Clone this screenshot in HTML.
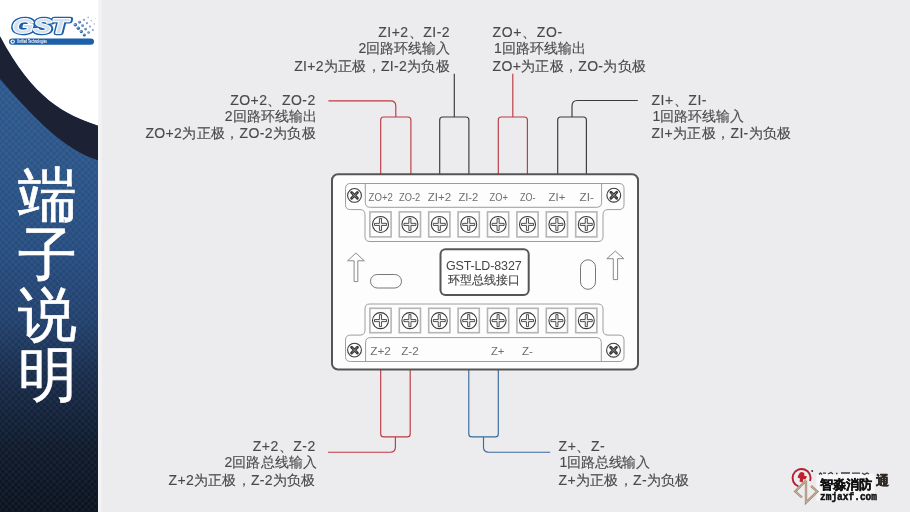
<!DOCTYPE html>
<html><head><meta charset="utf-8">
<style>
html,body{margin:0;padding:0;width:910px;height:512px;overflow:hidden;background:#ececef;}
svg{position:absolute;left:0;top:0;display:block;will-change:transform;}
text{font-family:"Liberation Sans",sans-serif;}
</style></head>
<body>
<svg width="910" height="512" viewBox="0 0 910 512">
<defs>
  <linearGradient id="pg" gradientUnits="userSpaceOnUse" x1="0" y1="0" x2="0" y2="512">
    <stop offset="0" stop-color="#2f5c95"/>
    <stop offset="0.31" stop-color="#2c5689"/>
    <stop offset="0.49" stop-color="#274d80"/>
    <stop offset="0.62" stop-color="#22426f"/>
    <stop offset="0.74" stop-color="#182b49"/>
    <stop offset="0.88" stop-color="#0f1a2b"/>
    <stop offset="1" stop-color="#0b1320"/>
  </linearGradient>
  <pattern id="hatch" width="4.5" height="4.5" patternUnits="userSpaceOnUse" patternTransform="rotate(45)">
    <rect x="0" y="0" width="1" height="4.5" fill="#ffffff" fill-opacity="0.045"/>
    <rect x="0" y="0" width="4.5" height="1" fill="#ffffff" fill-opacity="0.045"/>
    <rect x="2.25" y="2.25" width="1.2" height="1.2" fill="#000000" fill-opacity="0.05"/>
  </pattern>
</defs>
<!-- background -->
<rect x="0" y="0" width="910" height="512" fill="#ececef"/>
<rect x="98" y="0" width="3.5" height="512" fill="#f3f3f5"/>
<!-- left panel -->
<rect x="0" y="0" width="98" height="512" fill="url(#pg)"/>
<rect x="0" y="0" width="98" height="512" fill="url(#hatch)"/>
<path d="M0 0 H98 V125.69 C65.33 115.21 32.67 98.71 0 36.34 Z" fill="#ffffff"/>
<path d="M0 36.34 C32.67 98.71 65.33 115.21 98 125.69 V160.2 C65.33 150.4 32.67 117.03 0 79.00 Z" fill="#1c2133"/>
<g id="logo">
  <rect x="9" y="38.4" width="85" height="6.4" rx="3.2" fill="#1d5fa9"/>
  <circle cx="12.6" cy="41.6" r="2.2" fill="#ffffff"/>
  <circle cx="12.8" cy="41.6" r="1.1" fill="#1d5fa9"/>
  <text x="17" y="43.4" font-size="5" font-weight="bold" fill="#ffffff" textLength="30" lengthAdjust="spacingAndGlyphs">Unified Technologies</text>
  <g font-size="20" font-weight="bold" font-style="italic">
  <text x="12.8" y="33.4" fill="#1d5fa9" stroke="#1d5fa9" stroke-width="4.4" stroke-linejoin="round" textLength="55.5" lengthAdjust="spacingAndGlyphs">GST</text>
  <text x="12.4" y="32.8" fill="#ffffff" stroke="#ffffff" stroke-width="1.8" stroke-linejoin="round" textLength="55.5" lengthAdjust="spacingAndGlyphs">GST</text>
  <text x="12.4" y="32.8" fill="#3b78bd" fill-opacity="0.22" textLength="55.5" lengthAdjust="spacingAndGlyphs">GST</text>
</g>
  <g>
<circle cx="75.3" cy="24.8" r="1.75" fill="#2a62a8" opacity="1.00"/>
<circle cx="74.9" cy="24.4" r="0.79" fill="#cfe0f3" opacity="0.80"/>
<circle cx="78.3" cy="28.2" r="1.70" fill="#2a62a8" opacity="1.00"/>
<circle cx="77.9" cy="27.8" r="0.77" fill="#cfe0f3" opacity="0.80"/>
<circle cx="81.3" cy="31.6" r="1.65" fill="#2a62a8" opacity="1.00"/>
<circle cx="80.9" cy="31.2" r="0.74" fill="#cfe0f3" opacity="0.80"/>
<circle cx="84.3" cy="35.0" r="1.60" fill="#2a62a8" opacity="1.00"/>
<circle cx="83.9" cy="34.6" r="0.72" fill="#cfe0f3" opacity="0.80"/>
<circle cx="79.6" cy="22.3" r="1.45" fill="#2a62a8" opacity="0.82"/>
<circle cx="79.2" cy="21.9" r="0.65" fill="#cfe0f3" opacity="0.66"/>
<circle cx="82.6" cy="25.7" r="1.40" fill="#2a62a8" opacity="0.82"/>
<circle cx="82.2" cy="25.3" r="0.63" fill="#cfe0f3" opacity="0.66"/>
<circle cx="85.6" cy="29.1" r="1.35" fill="#2a62a8" opacity="0.82"/>
<circle cx="85.2" cy="28.7" r="0.61" fill="#cfe0f3" opacity="0.66"/>
<circle cx="88.6" cy="32.5" r="1.30" fill="#2a62a8" opacity="0.82"/>
<circle cx="88.2" cy="32.1" r="0.58" fill="#cfe0f3" opacity="0.66"/>
<circle cx="83.9" cy="19.8" r="1.15" fill="#2a62a8" opacity="0.64"/>
<circle cx="83.5" cy="19.4" r="0.52" fill="#cfe0f3" opacity="0.51"/>
<circle cx="86.9" cy="23.2" r="1.10" fill="#2a62a8" opacity="0.64"/>
<circle cx="86.5" cy="22.8" r="0.49" fill="#cfe0f3" opacity="0.51"/>
<circle cx="89.9" cy="26.6" r="1.05" fill="#2a62a8" opacity="0.64"/>
<circle cx="89.5" cy="26.2" r="0.47" fill="#cfe0f3" opacity="0.51"/>
<circle cx="92.9" cy="30.0" r="1.00" fill="#2a62a8" opacity="0.64"/>
<circle cx="92.5" cy="29.6" r="0.45" fill="#cfe0f3" opacity="0.51"/>
<circle cx="88.2" cy="17.3" r="0.85" fill="#2a62a8" opacity="0.46"/>
<circle cx="87.8" cy="16.9" r="0.38" fill="#cfe0f3" opacity="0.37"/>
<circle cx="91.2" cy="20.7" r="0.80" fill="#2a62a8" opacity="0.46"/>
<circle cx="90.8" cy="20.3" r="0.36" fill="#cfe0f3" opacity="0.37"/>
<circle cx="94.2" cy="24.1" r="0.75" fill="#2a62a8" opacity="0.46"/>
<circle cx="93.8" cy="23.7" r="0.34" fill="#cfe0f3" opacity="0.37"/>
<circle cx="95.5" cy="18.2" r="0.50" fill="#2a62a8" opacity="0.28"/>
<circle cx="95.1" cy="17.8" r="0.23" fill="#cfe0f3" opacity="0.22"/>
</g>
</g>
<text x="47" y="0" fill="#ffffff" stroke="#ffffff" stroke-width="0.7" font-size="59" text-anchor="middle"><tspan x="47.5" y="214.5">端</tspan><tspan x="47.5" y="274.5">子</tspan><tspan x="47.5" y="334.5">说</tspan><tspan x="47.5" y="394.5">明</tspan></text>

<!-- wires top -->
<g fill="none" stroke-width="1.15">
  <path d="M380.7 174 V120 Q380.7 117 383.7 117 H407.9 Q410.9 117 410.9 120 V174" stroke="#bb3a45"/>
  <path d="M395.8 117 V106 Q395.8 100.8 390.6 100.8 H328.4" stroke="#bb3a45"/>
  <path d="M439.7 174 V120 Q439.7 117 442.7 117 H465.9 Q468.9 117 468.9 120 V174" stroke="#3a3a3a"/>
  <path d="M454.3 117 V73.8" stroke="#3a3a3a"/>
  <path d="M498.3 174 V120 Q498.3 117 501.3 117 H524.4 Q527.4 117 527.4 120 V174" stroke="#bb3a45"/>
  <path d="M512.8 117 V73.8" stroke="#bb3a45"/>
  <path d="M557.7 174 V120 Q557.7 117 560.7 117 H583.4 Q586.4 117 586.4 120 V174" stroke="#3a3a3a"/>
  <path d="M572 117 V106 Q572 100.5 577.5 100.5 H637.8" stroke="#3a3a3a"/>
  <!-- bottom -->
  <path d="M380.7 369 V433.9 Q380.7 436.9 383.7 436.9 H407.2 Q410.2 436.9 410.2 433.9 V369" stroke="#bb3a45"/>
  <path d="M395.4 436.9 V447 Q395.4 452.2 390.2 452.2 H328" stroke="#bb3a45"/>
  <path d="M468.8 369 V433.9 Q468.8 436.9 471.8 436.9 H495.3 Q498.3 436.9 498.3 433.9 V369" stroke="#3a6a9a"/>
  <path d="M483.5 436.9 V447 Q483.5 452.2 488.7 452.2 H550.2" stroke="#3a6a9a"/>
</g>

<!-- main box -->
<rect x="332" y="174.2" width="306" height="195.3" rx="6" fill="#fdfdfd" stroke="#555555" stroke-width="2"/>

<!-- top block -->
<g fill="none" stroke="#9d9d9d" stroke-width="1">
  <path d="M350.5 183.5 H619 Q624 183.5 624 188.5 V204.6 Q624 209.6 619 209.6 H608 Q603 209.6 603 214.6 V236.5 Q603 241.5 598 241.5 H370 Q365 241.5 365 236.5 V214.6 Q365 209.6 360 209.6 H350.5 Q345.5 209.6 345.5 204.6 V188.5 Q345.5 183.5 350.5 183.5 Z"/>
  <path d="M365.3 183.5 V202.3 Q365.3 207.3 370.3 207.3 H596.6 Q601.6 207.3 601.6 202.3 V183.5"/>
  <path d="M369.5 304 H598 Q603 304 603 309 V330.1 Q603 335.1 608 335.1 H619 Q624 335.1 624 340.1 V356.5 Q624 361.5 619 361.5 H350.5 Q345.5 361.5 345.5 356.5 V340.1 Q345.5 335.1 350.5 335.1 H360 Q365 335.1 365 330.1 V309 Q365 304 369.5 304 Z"/>
  <path d="M365.6 361.5 V342.5 Q365.6 337.6 370.6 337.6 H596.3 Q601.3 337.6 601.3 342.5 V361.5"/>
</g>
<g id="screws">
<rect x="369.90" y="211.90" width="21.2" height="25.0" fill="none" stroke="#b5b5b5" stroke-width="1.6"/>
<circle cx="380.50" cy="224.4" r="8.0" fill="#fff" stroke="#3a3a3a" stroke-width="1.05"/>
<path d="M379.45 218.40 H381.55 V223.35 H386.50 V225.45 H381.55 V230.40 H379.45 V225.45 H374.50 V223.35 H379.45 Z" fill="#f2f2f2" stroke="#333333" stroke-width="0.85" stroke-linejoin="round"/>
<rect x="399.30" y="211.90" width="21.2" height="25.0" fill="none" stroke="#b5b5b5" stroke-width="1.6"/>
<circle cx="409.90" cy="224.4" r="8.0" fill="#fff" stroke="#3a3a3a" stroke-width="1.05"/>
<path d="M408.85 218.40 H410.95 V223.35 H415.90 V225.45 H410.95 V230.40 H408.85 V225.45 H403.90 V223.35 H408.85 Z" fill="#f2f2f2" stroke="#333333" stroke-width="0.85" stroke-linejoin="round"/>
<rect x="428.70" y="211.90" width="21.2" height="25.0" fill="none" stroke="#b5b5b5" stroke-width="1.6"/>
<circle cx="439.30" cy="224.4" r="8.0" fill="#fff" stroke="#3a3a3a" stroke-width="1.05"/>
<path d="M438.25 218.40 H440.35 V223.35 H445.30 V225.45 H440.35 V230.40 H438.25 V225.45 H433.30 V223.35 H438.25 Z" fill="#f2f2f2" stroke="#333333" stroke-width="0.85" stroke-linejoin="round"/>
<rect x="458.10" y="211.90" width="21.2" height="25.0" fill="none" stroke="#b5b5b5" stroke-width="1.6"/>
<circle cx="468.70" cy="224.4" r="8.0" fill="#fff" stroke="#3a3a3a" stroke-width="1.05"/>
<path d="M467.65 218.40 H469.75 V223.35 H474.70 V225.45 H469.75 V230.40 H467.65 V225.45 H462.70 V223.35 H467.65 Z" fill="#f2f2f2" stroke="#333333" stroke-width="0.85" stroke-linejoin="round"/>
<rect x="487.50" y="211.90" width="21.2" height="25.0" fill="none" stroke="#b5b5b5" stroke-width="1.6"/>
<circle cx="498.10" cy="224.4" r="8.0" fill="#fff" stroke="#3a3a3a" stroke-width="1.05"/>
<path d="M497.05 218.40 H499.15 V223.35 H504.10 V225.45 H499.15 V230.40 H497.05 V225.45 H492.10 V223.35 H497.05 Z" fill="#f2f2f2" stroke="#333333" stroke-width="0.85" stroke-linejoin="round"/>
<rect x="516.90" y="211.90" width="21.2" height="25.0" fill="none" stroke="#b5b5b5" stroke-width="1.6"/>
<circle cx="527.50" cy="224.4" r="8.0" fill="#fff" stroke="#3a3a3a" stroke-width="1.05"/>
<path d="M526.45 218.40 H528.55 V223.35 H533.50 V225.45 H528.55 V230.40 H526.45 V225.45 H521.50 V223.35 H526.45 Z" fill="#f2f2f2" stroke="#333333" stroke-width="0.85" stroke-linejoin="round"/>
<rect x="546.30" y="211.90" width="21.2" height="25.0" fill="none" stroke="#b5b5b5" stroke-width="1.6"/>
<circle cx="556.90" cy="224.4" r="8.0" fill="#fff" stroke="#3a3a3a" stroke-width="1.05"/>
<path d="M555.85 218.40 H557.95 V223.35 H562.90 V225.45 H557.95 V230.40 H555.85 V225.45 H550.90 V223.35 H555.85 Z" fill="#f2f2f2" stroke="#333333" stroke-width="0.85" stroke-linejoin="round"/>
<rect x="575.70" y="211.90" width="21.2" height="25.0" fill="none" stroke="#b5b5b5" stroke-width="1.6"/>
<circle cx="586.30" cy="224.4" r="8.0" fill="#fff" stroke="#3a3a3a" stroke-width="1.05"/>
<path d="M585.25 218.40 H587.35 V223.35 H592.30 V225.45 H587.35 V230.40 H585.25 V225.45 H580.30 V223.35 H585.25 Z" fill="#f2f2f2" stroke="#333333" stroke-width="0.85" stroke-linejoin="round"/>
<rect x="369.90" y="308.30" width="21.2" height="24.4" fill="none" stroke="#b5b5b5" stroke-width="1.6"/>
<circle cx="380.50" cy="320.6" r="8.0" fill="#fff" stroke="#3a3a3a" stroke-width="1.05"/>
<path d="M379.45 314.60 H381.55 V319.55 H386.50 V321.65 H381.55 V326.60 H379.45 V321.65 H374.50 V319.55 H379.45 Z" fill="#f2f2f2" stroke="#333333" stroke-width="0.85" stroke-linejoin="round"/>
<rect x="399.30" y="308.30" width="21.2" height="24.4" fill="none" stroke="#b5b5b5" stroke-width="1.6"/>
<circle cx="409.90" cy="320.6" r="8.0" fill="#fff" stroke="#3a3a3a" stroke-width="1.05"/>
<path d="M408.85 314.60 H410.95 V319.55 H415.90 V321.65 H410.95 V326.60 H408.85 V321.65 H403.90 V319.55 H408.85 Z" fill="#f2f2f2" stroke="#333333" stroke-width="0.85" stroke-linejoin="round"/>
<rect x="428.70" y="308.30" width="21.2" height="24.4" fill="none" stroke="#b5b5b5" stroke-width="1.6"/>
<circle cx="439.30" cy="320.6" r="8.0" fill="#fff" stroke="#3a3a3a" stroke-width="1.05"/>
<path d="M438.25 314.60 H440.35 V319.55 H445.30 V321.65 H440.35 V326.60 H438.25 V321.65 H433.30 V319.55 H438.25 Z" fill="#f2f2f2" stroke="#333333" stroke-width="0.85" stroke-linejoin="round"/>
<rect x="458.10" y="308.30" width="21.2" height="24.4" fill="none" stroke="#b5b5b5" stroke-width="1.6"/>
<circle cx="468.70" cy="320.6" r="8.0" fill="#fff" stroke="#3a3a3a" stroke-width="1.05"/>
<path d="M467.65 314.60 H469.75 V319.55 H474.70 V321.65 H469.75 V326.60 H467.65 V321.65 H462.70 V319.55 H467.65 Z" fill="#f2f2f2" stroke="#333333" stroke-width="0.85" stroke-linejoin="round"/>
<rect x="487.50" y="308.30" width="21.2" height="24.4" fill="none" stroke="#b5b5b5" stroke-width="1.6"/>
<circle cx="498.10" cy="320.6" r="8.0" fill="#fff" stroke="#3a3a3a" stroke-width="1.05"/>
<path d="M497.05 314.60 H499.15 V319.55 H504.10 V321.65 H499.15 V326.60 H497.05 V321.65 H492.10 V319.55 H497.05 Z" fill="#f2f2f2" stroke="#333333" stroke-width="0.85" stroke-linejoin="round"/>
<rect x="516.90" y="308.30" width="21.2" height="24.4" fill="none" stroke="#b5b5b5" stroke-width="1.6"/>
<circle cx="527.50" cy="320.6" r="8.0" fill="#fff" stroke="#3a3a3a" stroke-width="1.05"/>
<path d="M526.45 314.60 H528.55 V319.55 H533.50 V321.65 H528.55 V326.60 H526.45 V321.65 H521.50 V319.55 H526.45 Z" fill="#f2f2f2" stroke="#333333" stroke-width="0.85" stroke-linejoin="round"/>
<rect x="546.30" y="308.30" width="21.2" height="24.4" fill="none" stroke="#b5b5b5" stroke-width="1.6"/>
<circle cx="556.90" cy="320.6" r="8.0" fill="#fff" stroke="#3a3a3a" stroke-width="1.05"/>
<path d="M555.85 314.60 H557.95 V319.55 H562.90 V321.65 H557.95 V326.60 H555.85 V321.65 H550.90 V319.55 H555.85 Z" fill="#f2f2f2" stroke="#333333" stroke-width="0.85" stroke-linejoin="round"/>
<rect x="575.70" y="308.30" width="21.2" height="24.4" fill="none" stroke="#b5b5b5" stroke-width="1.6"/>
<circle cx="586.30" cy="320.6" r="8.0" fill="#fff" stroke="#3a3a3a" stroke-width="1.05"/>
<path d="M585.25 314.60 H587.35 V319.55 H592.30 V321.65 H587.35 V326.60 H585.25 V321.65 H580.30 V319.55 H585.25 Z" fill="#f2f2f2" stroke="#333333" stroke-width="0.85" stroke-linejoin="round"/>
<circle cx="354.5" cy="195.4" r="6.9" fill="#fff" stroke="#3a3a3a" stroke-width="1.1"/><path d="M351.6 192.5 L357.4 198.3 M357.4 192.5 L351.6 198.3" stroke="#3a3a3a" stroke-width="2.9" stroke-linecap="round"/><path d="M352.20000000000005 193.1 L356.79999999999995 197.70000000000002 M356.79999999999995 193.1 L352.20000000000005 197.70000000000002" stroke="#aaa" stroke-width="0.7"/>
<circle cx="613.8" cy="195.2" r="6.9" fill="#fff" stroke="#3a3a3a" stroke-width="1.1"/><path d="M610.9 192.29999999999998 L616.6999999999999 198.1 M616.6999999999999 192.29999999999998 L610.9 198.1" stroke="#3a3a3a" stroke-width="2.9" stroke-linecap="round"/><path d="M611.5 192.89999999999998 L616.0999999999999 197.5 M616.0999999999999 192.89999999999998 L611.5 197.5" stroke="#aaa" stroke-width="0.7"/>
<circle cx="354.5" cy="350.1" r="6.9" fill="#fff" stroke="#3a3a3a" stroke-width="1.1"/><path d="M351.6 347.20000000000005 L357.4 353.0 M357.4 347.20000000000005 L351.6 353.0" stroke="#3a3a3a" stroke-width="2.9" stroke-linecap="round"/><path d="M352.20000000000005 347.80000000000007 L356.79999999999995 352.4 M356.79999999999995 347.80000000000007 L352.20000000000005 352.4" stroke="#aaa" stroke-width="0.7"/>
<circle cx="613.5" cy="350.2" r="6.9" fill="#fff" stroke="#3a3a3a" stroke-width="1.1"/><path d="M610.6 347.3 L616.4 353.09999999999997 M616.4 347.3 L610.6 353.09999999999997" stroke="#3a3a3a" stroke-width="2.9" stroke-linecap="round"/><path d="M611.2 347.90000000000003 L615.8 352.49999999999994 M615.8 347.90000000000003 L611.2 352.49999999999994" stroke="#aaa" stroke-width="0.7"/>
</g>

<!-- center label -->
<rect x="440.5" y="249.3" width="88.2" height="45.6" rx="5" fill="#ffffff" stroke="#555555" stroke-width="2"/>
<g id="cl" fill="#444"><text id="L1" x="445.9" y="269.5" font-size="12.5" textLength="75.8" lengthAdjust="spacing">GST-LD-8327</text>
<text id="L2" x="447.8" y="284.3" font-size="12" stroke="#444" stroke-width="0.15">环型总线接口</text></g>

<!-- arrows & ovals -->
<g fill="none" stroke="#8a8a8a" stroke-width="1">
  <path d="M355.9 253 L364.3 260.8 H357.8 V281.6 H354.1 V260.8 H347.6 Z"/>
  <path d="M615.3 251.1 L623.8 258.7 H617.6 V279.6 H613.3 V258.7 H606.8 Z"/>
  <rect x="370.5" y="274.5" width="31" height="13.5" rx="6.75" stroke="#777"/>
  <rect x="580.5" y="259.8" width="15" height="29.5" rx="7.5" stroke="#777"/>
</g>

<g id="tl" font-size="11.5" fill="#6e6e6e">
<text id="t1" x="368.60" y="200.5" textLength="24.29" lengthAdjust="spacingAndGlyphs">ZO+2</text>
<text id="t2" x="399.00" y="200.5" textLength="21.20" lengthAdjust="spacingAndGlyphs">ZO-2</text>
<text id="t3" x="427.80" y="200.5" textLength="23.44" lengthAdjust="spacingAndGlyphs">ZI+2</text>
<text id="t4" x="458.40" y="200.5" textLength="19.95" lengthAdjust="spacingAndGlyphs">ZI-2</text>
<text id="t5" x="489.60" y="200.5" textLength="18.29" lengthAdjust="spacingAndGlyphs">ZO+</text>
<text id="t6" x="520.00" y="200.5" textLength="15.51" lengthAdjust="spacingAndGlyphs">ZO-</text>
<text id="t7" x="548.60" y="200.5" textLength="16.64" lengthAdjust="spacingAndGlyphs">ZI+</text>
<text id="t8" x="579.60" y="200.5" textLength="14.36" lengthAdjust="spacingAndGlyphs">ZI-</text>
<text id="t9" x="370.20" y="354.8" textLength="20.74" lengthAdjust="spacingAndGlyphs">Z+2</text>
<text id="t10" x="401.20" y="354.8" textLength="17.55" lengthAdjust="spacingAndGlyphs">Z-2</text>
<text id="t11" x="491.00" y="354.8" textLength="13.45" lengthAdjust="spacingAndGlyphs">Z+</text>
<text id="t12" x="522.00" y="354.8" textLength="10.86" lengthAdjust="spacingAndGlyphs">Z-</text>
</g>
<g id="ann" font-size="14" fill="#4a4a4a" stroke="#4a4a4a" stroke-width="0.14">
<text id="a1" x="378.20" y="36.8" textLength="71.40" lengthAdjust="spacing">ZI+2、ZI-2</text>
<text id="a2" x="358.60" y="53.4" textLength="91.70" lengthAdjust="spacing">2回路环线输入</text>
<text id="a3" x="294.20" y="71.0" textLength="155.40" lengthAdjust="spacing">ZI+2为正极，ZI-2为负极</text>
<text id="b1" x="492.60" y="36.8" textLength="69.53" lengthAdjust="spacing">ZO+、ZO-</text>
<text id="b2" x="494.00" y="53.4" textLength="92.30" lengthAdjust="spacing">1回路环线输出</text>
<text id="b3" x="492.60" y="71.0" textLength="153.33" lengthAdjust="spacing">ZO+为正极，ZO-为负极</text>
<text id="c1" x="230.20" y="104.8" textLength="85.00" lengthAdjust="spacing">ZO+2、ZO-2</text>
<text id="c2" x="224.80" y="121.2" textLength="92.20" lengthAdjust="spacing">2回路环线输出</text>
<text id="c3" x="145.40" y="138.3" textLength="170.10" lengthAdjust="spacing">ZO+2为正极，ZO-2为负极</text>
<text id="d1" x="651.40" y="104.7" textLength="55.13" lengthAdjust="spacing">ZI+、ZI-</text>
<text id="d2" x="652.60" y="121.1" textLength="91.30" lengthAdjust="spacing">1回路环线输入</text>
<text id="d3" x="651.40" y="138.3" textLength="139.93" lengthAdjust="spacing">ZI+为正极，ZI-为负极</text>
<text id="e1" x="252.80" y="450.6" textLength="62.42" lengthAdjust="spacing">Z+2、Z-2</text>
<text id="e2" x="224.40" y="467.2" textLength="92.70" lengthAdjust="spacing">2回路总线输入</text>
<text id="e3" x="168.60" y="484.8" textLength="146.82" lengthAdjust="spacing">Z+2为正极，Z-2为负极</text>
<text id="f1" x="558.60" y="450.6" textLength="46.05" lengthAdjust="spacing">Z+、Z-</text>
<text id="f2" x="559.60" y="467.2" textLength="90.50" lengthAdjust="spacing">1回路总线输入</text>
<text id="f3" x="558.60" y="484.8" textLength="130.85" lengthAdjust="spacing">Z+为正极，Z-为负极</text>
</g>
<g id="wm">
  <rect x="816.5" y="474" width="58" height="27" fill="#f8f8f9"/>
  <path d="M798.4 486.4 A9 9 0 1 1 810 481" fill="none" stroke="#b51f2e" stroke-width="1.9"/>
  <path d="M800 472.5 q3 -1.5 4.5 1 l-0.5 2 l3 1 l-1.5 3 l-2 -0.5 l-1 3.5 l-3 -1 l0.5 -3 l-2.5 -1 l1 -2.5z" fill="#c01f2e"/>
  <circle cx="812.2" cy="471" r="0.9" fill="#222"/>
  <g fill="none" stroke-linejoin="miter">
    <path d="M806 480.5 L795.3 491.5 L802 497.5 M811 485.8 L817.3 491.5 L806 502.5 L806 480.5" stroke="#9c8064" stroke-width="2.3"/>
    <path d="M806 480.5 L795.3 491.5 L802 497.5 M811 485.8 L817.3 491.5 L806 502.5 L806 480.5" stroke="#e9dccd" stroke-width="0.7"/>
  </g>
  <path d="M819 474.5 l1.5 -1.5 l1.5 1.5 M823 473.2 h3 M828 474 l3 -1.5 l2 1.5 M836 473.5 h1.5 M841 473 h9 M852 473.2 h8 M862 473 l2.5 1.5 l2.5 -1.5 l2 1" stroke="#1e1e1e" stroke-width="1.3" fill="none" opacity="0.85"/>
  <text x="819.5" y="488.8" font-size="13" font-weight="bold" fill="#111111" stroke="#111111" stroke-width="0.35" textLength="52.5" lengthAdjust="spacingAndGlyphs">智淼消防</text>
  <text x="876" y="484.8" font-size="13" font-weight="bold" fill="#2e2824" stroke="#2e2824" stroke-width="0.4">通</text>
  <text x="820" y="500" font-size="10.5" font-weight="bold" fill="#111111" stroke="#111111" stroke-width="0.5" textLength="57" lengthAdjust="spacingAndGlyphs" style="font-family:'Liberation Mono',monospace">zmjaxf.com</text>
</g>
</svg>
</body></html>
